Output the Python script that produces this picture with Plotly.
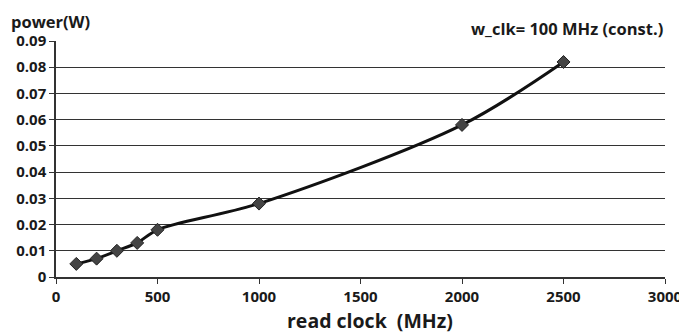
import plotly.graph_objects as go

read_clock_mhz = [100, 200, 300, 400, 500, 1000, 2000, 2500]
power_w = [0.005, 0.007, 0.010, 0.013, 0.018, 0.028, 0.058, 0.082]

x_ticks = [0, 500, 1000, 1500, 2000, 2500, 3000]
y_ticks = [0, 0.01, 0.02, 0.03, 0.04, 0.05, 0.06, 0.07, 0.08, 0.09]
y_tick_text = ["0", "0.01", "0.02", "0.03", "0.04", "0.05", "0.06", "0.07", "0.08", "0.09"]

FAM = "Open Sans, Liberation Sans, sans-serif"
font_tick = dict(family=FAM, size=15, color="#1a1a1a", weight="bold")

fig = go.Figure()
fig.add_trace(go.Scatter(
    x=read_clock_mhz, y=power_w, mode="lines+markers",
    line=dict(color="#111111", width=3, shape="spline", smoothing=0.9),
    marker=dict(symbol="diamond", size=10, color="#444444",
                line=dict(color="#222222", width=1)),
    showlegend=False,
))

fig.update_layout(
    width=679, height=325,
    margin=dict(l=48, r=22, t=33, b=56),
    paper_bgcolor="white", plot_bgcolor="white",
    xaxis=dict(range=[0, 3000], tickvals=x_ticks, ticks="outside", ticklen=5,
               tickcolor="#333333", showgrid=False, showline=True,
               linecolor="#333333", linewidth=1.5, zeroline=False,
               tickfont=font_tick, automargin=False),
    yaxis=dict(range=[0, 0.09], tickvals=y_ticks, ticktext=y_tick_text,
               ticks="outside", ticklen=5, tickcolor="#333333",
               showgrid=True, gridcolor="#333333", gridwidth=1.2,
               showline=True, linecolor="#333333", linewidth=1.5, zeroline=False,
               tickfont=font_tick, automargin=False),
    annotations=[
        dict(text="<b>power(W)</b>", xref="paper", yref="paper", x=-0.0788, y=1.0,
             xshift=1, yshift=33, xanchor="left", yanchor="top", showarrow=False,
             font=dict(family=FAM, size=16.5, color="#1a1a1a")),
        dict(text="w_clk= 100 MHz (const.)", xref="paper", yref="paper", x=1.0, y=1.0,
             yshift=13, xanchor="right", yanchor="middle", showarrow=False,
             font=dict(family=FAM, size=16.5, color="#1a1a1a", weight="bold")),
        dict(text="<b>read clock  (MHz)</b>", xref="paper", yref="paper", x=0.5156, y=0,
             yshift=-43, xanchor="center", yanchor="middle", showarrow=False,
             font=dict(family=FAM, size=19.5, color="#1a1a1a")),
    ],
)

fig.write_html("out.html")
